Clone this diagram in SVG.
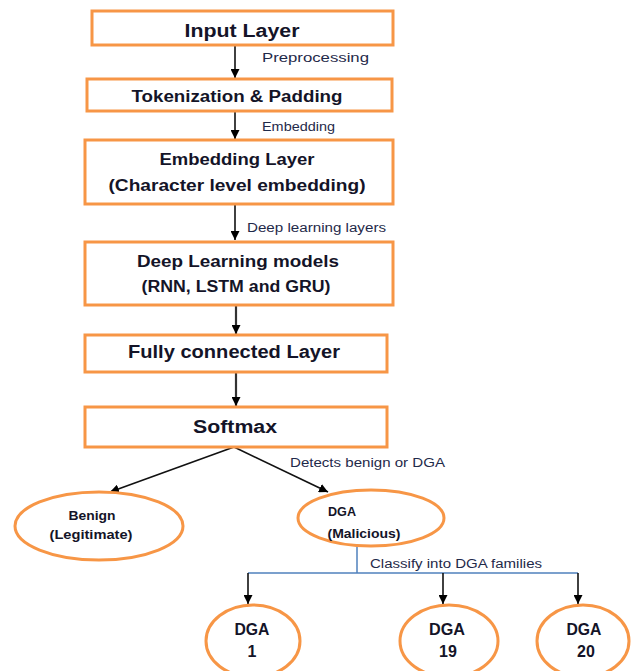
<svg xmlns="http://www.w3.org/2000/svg" width="632" height="671" viewBox="0 0 632 671">
<defs>
<style>
.box{fill:#fff;stroke:#f79646;stroke-width:3}
.ell{fill:#fff;stroke:#f79646;stroke-width:3}
.t{font-family:"Liberation Sans",Arial,sans-serif;font-weight:bold;fill:#141428;text-anchor:middle}
.big{font-size:18px}
.mid{font-size:16px}
.sm{font-size:12.5px;font-weight:bold}
.lbl{font-family:"Liberation Sans",Arial,sans-serif;font-size:12px;fill:#1f2a4a}
.c{stroke:#111;stroke-width:1.6;fill:none;marker-end:url(#ah)}
.cg{stroke:#333;stroke-width:2.2;fill:none;marker-end:url(#ah)}
.cb{stroke:#4f81bd;stroke-width:1.5;fill:none}
</style>
<marker id="ah" viewBox="0 0 10 10" refX="10" refY="5" markerWidth="9" markerHeight="9" markerUnits="userSpaceOnUse" orient="auto">
<path d="M0,0 L10,5 L0,10 z" fill="#000"/>
</marker>
</defs>
<rect width="632" height="671" fill="#fff"/>
<g id="connectors">
<line class="c" x1="235" y1="45" x2="235" y2="78"/>
<line class="c" x1="235" y1="111" x2="235" y2="139"/>
<line class="c" x1="235" y1="204" x2="235" y2="240"/>
<line class="cg" x1="236" y1="305" x2="236" y2="334"/>
<line class="cg" x1="236" y1="372" x2="236" y2="406"/>
<line class="c" x1="234" y1="447" x2="110" y2="492"/>
<line class="c" x1="234" y1="447" x2="328" y2="492"/>
<polyline class="cb" points="357,545 357,573"/>
<line class="cb" x1="248" y1="573" x2="578" y2="573"/>
<line class="c" x1="248" y1="573" x2="248" y2="604"/>
<line class="c" x1="443" y1="573" x2="443" y2="604"/>
<line class="c" x1="578" y1="573" x2="578" y2="604"/>
<text class="lbl" x="262" y="62" textLength="107" lengthAdjust="spacingAndGlyphs">Preprocessing</text>
<text class="lbl" x="262" y="131" textLength="73" lengthAdjust="spacingAndGlyphs">Embedding</text>
<text class="lbl" x="247" y="232" textLength="139" lengthAdjust="spacingAndGlyphs">Deep learning layers</text>
<text class="lbl" x="290" y="467" textLength="155" lengthAdjust="spacingAndGlyphs">Detects  benign  or DGA</text>
<text class="lbl" x="370" y="568" textLength="172" lengthAdjust="spacingAndGlyphs">Classify  into  DGA families</text>
</g>
<g id="input-layer">
<rect class="box" x="92" y="11" width="301" height="34"/>
<text class="t big" x="242" y="37" textLength="115" lengthAdjust="spacingAndGlyphs">Input Layer</text>
</g>
<g id="tokenization">
<rect class="box" x="87" y="79" width="305" height="32"/>
<text class="t mid" x="237" y="102" textLength="211" lengthAdjust="spacingAndGlyphs">Tokenization &amp; Padding</text>
</g>
<g id="embedding-layer">
<rect class="box" x="85" y="140" width="308" height="64"/>
<text class="t mid" x="237" y="165" textLength="155" lengthAdjust="spacingAndGlyphs">Embedding Layer</text>
<text class="t mid" x="237" y="191" textLength="257" lengthAdjust="spacingAndGlyphs">(Character level embedding)</text>
</g>
<g id="deep-learning">
<rect class="box" x="85" y="242" width="308" height="63"/>
<text class="t mid" x="238" y="267" textLength="202" lengthAdjust="spacingAndGlyphs">Deep Learning models</text>
<text class="t mid" x="236" y="292" textLength="189" lengthAdjust="spacingAndGlyphs">(RNN, LSTM and GRU)</text>
</g>
<g id="fully-connected">
<rect class="box" x="85" y="335" width="302" height="37"/>
<text class="t big" x="234" y="358" textLength="212" lengthAdjust="spacingAndGlyphs">Fully connected Layer</text>
</g>
<g id="softmax">
<rect class="box" x="85" y="407" width="302" height="40"/>
<text class="t big" x="235" y="433" textLength="84" lengthAdjust="spacingAndGlyphs">Softmax</text>
</g>
<g id="benign">
<ellipse class="ell" cx="99" cy="526" rx="84" ry="34"/>
<text class="t sm" x="92" y="520" textLength="47" lengthAdjust="spacingAndGlyphs">Benign</text>
<text class="t sm" x="91" y="539" textLength="83" lengthAdjust="spacingAndGlyphs">(Legitimate)</text>
</g>
<g id="dga-malicious">
<ellipse class="ell" cx="371" cy="518" rx="73" ry="28"/>
<text class="t sm" x="342" y="516" textLength="28" lengthAdjust="spacingAndGlyphs">DGA</text>
<text class="t sm" x="364" y="538" textLength="73" lengthAdjust="spacingAndGlyphs">(Malicious)</text>
</g>
<g id="dga-1">
<ellipse class="ell" cx="253" cy="641" rx="47" ry="36"/>
<text class="t mid" x="252" y="635" textLength="35" lengthAdjust="spacingAndGlyphs">DGA</text>
<text class="t mid" x="252" y="657">1</text>
</g>
<g id="dga-19">
<ellipse class="ell" cx="449" cy="641" rx="49" ry="36"/>
<text class="t mid" x="447" y="635" textLength="36" lengthAdjust="spacingAndGlyphs">DGA</text>
<text class="t mid" x="448" y="657">19</text>
</g>
<g id="dga-20">
<ellipse class="ell" cx="583" cy="641" rx="46" ry="36"/>
<text class="t mid" x="584" y="635" textLength="35" lengthAdjust="spacingAndGlyphs">DGA</text>
<text class="t mid" x="586" y="657">20</text>
</g>
</svg>
